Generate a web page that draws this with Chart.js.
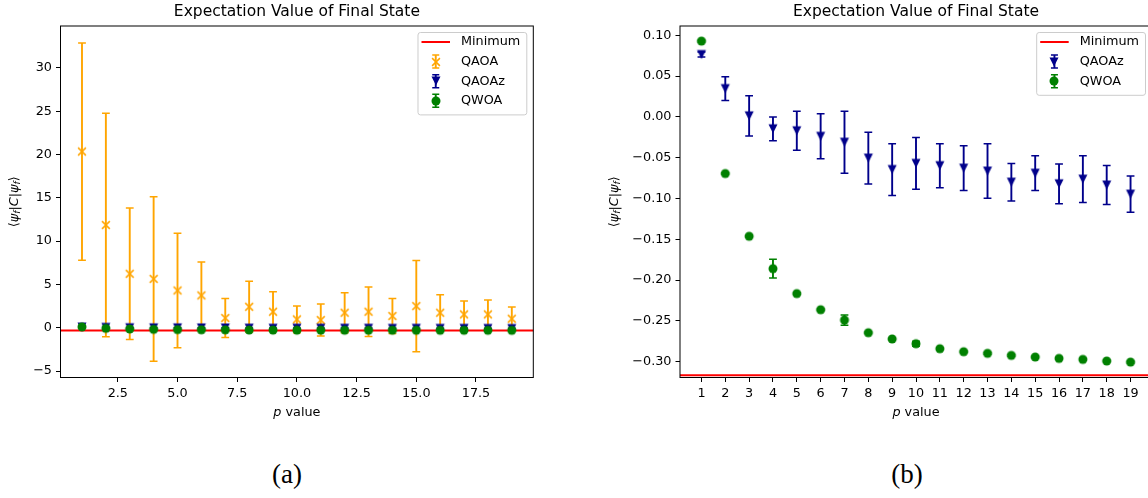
<!DOCTYPE html>
<html>
<head>
<meta charset="utf-8">
<script src="https://cdn.jsdelivr.net/npm/chart.js@4.4.1/dist/chart.umd.min.js"></script>
<style>
  html, body { margin: 0; padding: 0; background: #fff; overflow: hidden; width: 1148px; height: 498px; }
  #chartA { position: absolute; left: 0; top: 0; }
  #chartB { position: absolute; left: 600px; top: 0; }
  .caption { position: absolute; top: 461px; font-family: "Liberation Serif", "DejaVu Serif", serif; font-size: 27px; line-height: 27px; transform: translateX(-50%); color: #000; }
</style>
</head>
<body>
<canvas id="chartA" width="560" height="440"></canvas>
<canvas id="chartB" width="600" height="440"></canvas>
<div class="caption" style="left:287px">(a)</div>
<div class="caption" style="left:907px">(b)</div>
<script>
// p values (x axis)
const pValues = [1, 2, 3, 4, 5, 6, 7, 8, 9, 10, 11, 12, 13, 14, 15, 16, 17, 18, 19];

// QAOA (only in panel a)
const qaoaMean = [20.35, 11.86, 6.23, 5.64, 4.30, 3.73, 1.12, 2.42, 1.85, 0.96, 0.88, 1.73, 1.85, 1.35, 2.50, 1.73, 1.54, 1.54, 1.04];
const qaoaErr = [12.55, 12.9, 7.6, 9.5, 6.6, 3.87, 2.25, 2.95, 2.3, 1.54, 1.85, 2.3, 2.85, 2.03, 5.27, 2.07, 1.54, 1.65, 1.35];

// QAOAz
const qaoazMean = [0.0764, 0.0347, 0.0013, -0.0146, -0.0170, -0.0238, -0.0310, -0.0505, -0.0645, -0.0570, -0.0598, -0.0628, -0.0664, -0.0800, -0.0690, -0.0820, -0.0763, -0.0835, -0.0947];
const qaoazErr = [0.003, 0.0146, 0.0246, 0.0146, 0.024, 0.0276, 0.038, 0.0317, 0.0317, 0.0317, 0.0269, 0.0275, 0.0334, 0.023, 0.0213, 0.0244, 0.0287, 0.024, 0.0223];

// QWOA
const qwoaMean = [0.0929, -0.0694, -0.1463, -0.1860, -0.2166, -0.2363, -0.2490, -0.2645, -0.2722, -0.2780, -0.2841, -0.2878, -0.2898, -0.2923, -0.2943, -0.2960, -0.2972, -0.2992, -0.3005];
const qwoaErr = [0.001, 0.001, 0.001, 0.0115, 0.001, 0.001, 0.0063, 0.001, 0.001, 0.003, 0.001, 0.001, 0.001, 0.001, 0.001, 0.001, 0.001, 0.001, 0.001];

// horizontal reference line
const minimumValue = -0.3165;

// axis ranges and ticks
const xRange = [0.1, 19.9];
const yRangeA = [-5.75, 34.85];
const yRangeB = [-0.3194, 0.1114];
const xTicksA = [2.5, 5, 7.5, 10, 12.5, 15, 17.5];
const yTicksA = [-5, 0, 5, 10, 15, 20, 25, 30];
const xTicksB = [1, 2, 3, 4, 5, 6, 7, 8, 9, 10, 11, 12, 13, 14, 15, 16, 17, 18, 19];
const yTicksB = [-0.30, -0.25, -0.20, -0.15, -0.10, -0.05, 0.00, 0.05, 0.10];

const FONT = '"DejaVu Sans", sans-serif';
const TICK_SIZE = 12.8;
const MINUS = '\u2212';

function makeMarker(kind, color) {
  const c = document.createElement('canvas');
  c.width = 12;
  c.height = 12;
  const g = c.getContext('2d');
  g.fillStyle = color;
  g.strokeStyle = color;
  g.beginPath();
  if (kind === 'circle') {
    g.arc(6, 6, 4.5, 0, Math.PI * 2);
    g.fill();
  } else if (kind === 'tri') {
    g.moveTo(1.5, 1.6);
    g.lineTo(10.5, 1.6);
    g.lineTo(6, 10.6);
    g.closePath();
    g.fill();
  } else {
    g.lineWidth = 1.5;
    g.moveTo(2.1, 2.1); g.lineTo(9.9, 9.9);
    g.moveTo(9.9, 2.1); g.lineTo(2.1, 9.9);
    g.stroke();
  }
  return c;
}

function series(label, means, errors, color, marker, order) {
  return {
    label: label,
    data: pValues.map((p, i) => ({ x: p, y: means[i] })),
    errors: errors,
    borderColor: color,
    backgroundColor: color,
    pointStyle: makeMarker(marker, color),
    pointRadius: 5,
    pointHoverRadius: 5,
    showLine: false,
    order: order
  };
}

// error bars, drawn just before each dataset's markers
const errorBarPlugin = {
  id: 'errorBars',
  beforeDatasetDraw(chart, args) {
    const ds = chart.data.datasets[args.index];
    if (!ds.errors) return;
    const y = chart.scales.y;
    const area = chart.chartArea;
    const ctx = chart.ctx;
    ctx.save();
    ctx.beginPath();
    ctx.rect(area.left, area.top, area.right - area.left, area.bottom - area.top);
    ctx.clip();
    ctx.strokeStyle = ds.borderColor;
    args.meta.data.forEach((pt, i) => {
      const v = ds.data[i].y;
      const e = ds.errors[i];
      const top = y.getPixelForValue(v + e);
      const bot = y.getPixelForValue(v - e);
      ctx.lineWidth = 1.9;
      ctx.beginPath();
      ctx.moveTo(pt.x, top);
      ctx.lineTo(pt.x, bot);
      ctx.stroke();
      ctx.lineWidth = 1.5;
      ctx.beginPath();
      ctx.moveTo(pt.x - 3.9, top); ctx.lineTo(pt.x + 3.9, top);
      ctx.moveTo(pt.x - 3.9, bot); ctx.lineTo(pt.x + 3.9, bot);
      ctx.stroke();
    });
    ctx.restore();
  }
};

function drawPieces(ctx, pieces, cx, cy) {
  let total = 0;
  pieces.forEach(p => { ctx.font = p.font; p.w = ctx.measureText(p.t).width; total += p.w; });
  let x = cx - total / 2;
  pieces.forEach(p => {
    ctx.font = p.font;
    ctx.fillText(p.t, x, cy + (p.dy || 0));
    x += p.w;
  });
}

// matplotlib look: minimum line, frame, legend, axis labels
const mplPlugin = {
  id: 'mplFrame',
  beforeDatasetsDraw(chart) {
    const area = chart.chartArea;
    const ctx = chart.ctx;
    const yPix = chart.scales.y.getPixelForValue(minimumValue);
    ctx.save();
    ctx.strokeStyle = '#ff0000';
    ctx.lineWidth = 2;
    ctx.beginPath();
    ctx.moveTo(area.left, yPix);
    ctx.lineTo(area.right, yPix);
    ctx.stroke();
    ctx.restore();
  },
  afterDatasetsDraw(chart) {
    const area = chart.chartArea;
    const ctx = chart.ctx;
    ctx.save();
    ctx.strokeStyle = '#000';
    ctx.lineWidth = 1;
    ctx.strokeRect(area.left, area.top, area.right - area.left, area.bottom - area.top);

    // legend
    const entries = [{ label: 'Minimum', line: true, color: '#ff0000' }].concat(
      chart.data.datasets.map(ds => ({ label: ds.label, color: ds.borderColor, marker: ds.pointStyle }))
    );
    ctx.font = TICK_SIZE + 'px ' + FONT;
    const textW = Math.max(...entries.map(e => ctx.measureText(e.label).width));
    const boxW = 3.5 + 28.5 + 11 + textW + 6.5;
    const boxH = entries.length * 19.6 + 4;
    const bx = area.right - 6.5 - boxW;
    const by = area.top + 6.5;
    ctx.fillStyle = 'rgba(255,255,255,0.8)';
    ctx.strokeStyle = '#cccccc';
    ctx.beginPath();
    ctx.roundRect(bx, by, boxW, boxH, 2.5);
    ctx.fill();
    ctx.stroke();
    entries.forEach((e, i) => {
      const cy = by + 9.5 + i * 19.6;
      const hx = bx + 3.5;
      if (e.line) {
        ctx.strokeStyle = e.color;
        ctx.lineWidth = 2;
        ctx.beginPath();
        ctx.moveTo(hx, cy);
        ctx.lineTo(hx + 28.5, cy);
        ctx.stroke();
      } else {
        const mx = hx + 14.25;
        ctx.strokeStyle = e.color;
        ctx.lineWidth = 1.9;
        ctx.beginPath();
        ctx.moveTo(mx, cy - 6.5); ctx.lineTo(mx, cy + 6.5);
        ctx.stroke();
        ctx.lineWidth = 1.5;
        ctx.beginPath();
        ctx.moveTo(mx - 3.5, cy - 6.5); ctx.lineTo(mx + 3.5, cy - 6.5);
        ctx.moveTo(mx - 3.5, cy + 6.5); ctx.lineTo(mx + 3.5, cy + 6.5);
        ctx.stroke();
        ctx.drawImage(e.marker, Math.round(mx) - 6, Math.round(cy) - 6);
      }
      ctx.fillStyle = '#000';
      ctx.textBaseline = 'middle';
      ctx.textAlign = 'left';
      ctx.fillText(e.label, bx + 43, cy);
    });
    ctx.restore();
  },
  afterDraw(chart) {
    const area = chart.chartArea;
    const ctx = chart.ctx;
    const yScale = chart.scales.y;
    ctx.save();
    ctx.fillStyle = '#000';
    ctx.textBaseline = 'middle';
    ctx.textAlign = 'left';
    const normal = TICK_SIZE + 'px ' + FONT;
    const italic = 'italic ' + TICK_SIZE + 'px ' + FONT;
    const sub = 'italic 9px ' + FONT;

    // x label
    drawPieces(ctx, [{ t: 'p', font: italic }, { t: ' value', font: normal }],
      (area.left + area.right) / 2, area.bottom + 35);

    // y label
    ctx.font = normal;
    const maxW = Math.max(...yScale.ticks.map(t => ctx.measureText(yScale.options.ticks.callback(t.value)).width));
    const lx = area.left - 4.5 - 4 - maxW - 18;
    ctx.translate(lx, (area.top + area.bottom) / 2);
    ctx.rotate(-Math.PI / 2);
    drawPieces(ctx, [
      { t: '\u27E8', font: normal },
      { t: '\u03C8', font: italic },
      { t: 'f', font: sub, dy: 3 },
      { t: '|', font: normal },
      { t: 'C', font: italic },
      { t: '|', font: normal },
      { t: '\u03C8', font: italic },
      { t: 'f', font: sub, dy: 3 },
      { t: '\u27E9', font: normal }
    ], 0, 0);
    ctx.restore();
  }
};

function buildChart(id, datasets, cfg) {
  const tickFont = { family: FONT, size: TICK_SIZE };
  const grid = { display: true, drawOnChartArea: false, drawTicks: true, tickLength: 4.5, color: '#000', lineWidth: 1 };
  return new Chart(document.getElementById(id), {
    type: 'scatter',
    data: { datasets: datasets },
    options: {
      responsive: false,
      animation: false,
      events: [],
      layout: { padding: { left: 0, right: cfg.padRight, top: 0, bottom: 0 } },
      plugins: {
        legend: { display: false },
        tooltip: { enabled: false },
        title: {
          display: true,
          text: 'Expectation Value of Final State',
          fullSize: false,
          color: '#000',
          font: { family: FONT, size: 15.5, weight: 'normal' },
          padding: { top: 3, bottom: 4.4 }
        }
      },
      scales: {
        x: {
          type: 'linear',
          min: xRange[0],
          max: xRange[1],
          afterBuildTicks: axis => { axis.ticks = cfg.xTicks.map(v => ({ value: v })); },
          afterFit: axis => { axis.height = 62.5; },
          ticks: { font: tickFont, color: '#000', padding: 4, autoSkip: false, maxRotation: 0, callback: cfg.xFmt },
          grid: grid,
          border: { display: false }
        },
        y: {
          type: 'linear',
          min: cfg.yRange[0],
          max: cfg.yRange[1],
          afterBuildTicks: axis => { axis.ticks = cfg.yTicks.map(v => ({ value: v })); },
          afterFit: axis => { axis.width = cfg.yWidth; },
          ticks: { font: tickFont, color: '#000', padding: 4, autoSkip: false, callback: cfg.yFmt },
          grid: grid,
          border: { display: false }
        }
      }
    },
    plugins: [errorBarPlugin, mplPlugin]
  });
}

const orange = '#ffa500';
const navy = '#00008b';
const green = '#008000';

buildChart('chartA', [
  series('QAOA', qaoaMean, qaoaErr, orange, 'x', 3),
  series('QAOAz', qaoazMean, qaoazErr, navy, 'tri', 2),
  series('QWOA', qwoaMean, qwoaErr, green, 'circle', 1)
], {
  padRight: 26.7,
  yWidth: 60.5,
  yRange: yRangeA,
  xTicks: xTicksA,
  yTicks: yTicksA,
  xFmt: v => Number(v).toFixed(1),
  yFmt: v => String(v).replace('-', MINUS)
});

buildChart('chartB', [
  series('QAOAz', qaoazMean, qaoazErr, navy, 'tri', 2),
  series('QWOA', qwoaMean, qwoaErr, green, 'circle', 1)
], {
  padRight: 48,
  yWidth: 80,
  yRange: yRangeB,
  xTicks: xTicksB,
  yTicks: yTicksB,
  xFmt: v => String(v),
  yFmt: v => Number(v).toFixed(2).replace('-', MINUS)
});
</script>
</body>
</html>
